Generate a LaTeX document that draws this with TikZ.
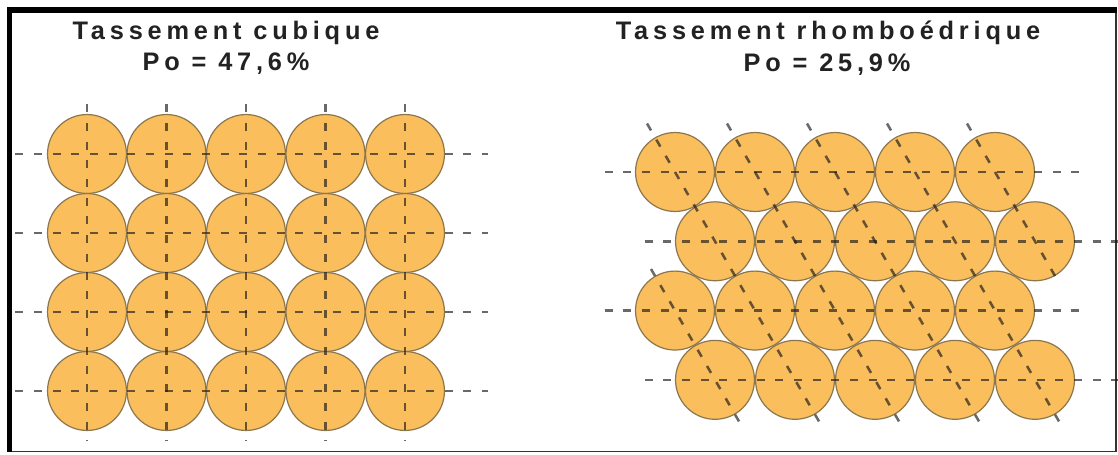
\documentclass[tikz,border=0pt]{standalone}
\usepackage{fontspec}
\setmainfont{Liberation Sans}
\newfontfamily\headfont[LetterSpace=19]{Liberation Sans}
\usetikzlibrary{calc}
\definecolor{ink}{RGB}{34,34,34}
\definecolor{grain}{RGB}{250,190,92}
\definecolor{grainrim}{RGB}{140,118,78}

\begin{document}
\begin{tikzpicture}[
  x=0.75pt,y=-0.75pt,
  grain/.style={circle, draw=grainrim, fill=grain, line width=0.9pt,
                minimum size=59.2pt, inner sep=0pt},
  axis/.style={draw=black!90, opacity=0.65, line width=1.9pt,
               dash pattern=on 6pt off 8pt},
  heading/.style={font=\headfont\bfseries\fontsize{19}{22}\selectfont,
                  text=ink, anchor=base, inner sep=0pt}
]
\useasboundingbox (0,0) rectangle (1118,454);
\fill[white] (0,0) rectangle (1118,454);

% Frame: heavy top and left edges, hairline right and bottom.
\fill[black] (7,7) rectangle (1117,13);
\fill[black] (7,7) rectangle (12,452);
\draw[black!80, line width=0.9pt] (1116,13) -- (1116,451.5) -- (12,451.5);

% Headings.
\node[heading] (titleL) at (226,39) {Tassement cubique};
\node[heading] (poL) at (226,70.5) {Po = 47,6\%};
\node[heading] (titleR) at (828,39) {Tassement rhomboédrique};
\node[heading] (poR) at (827,71) {Po = 25,9\%};

% Cubic packing: grains stacked straight on top of each other.
\foreach \r in {1,...,4}
  \foreach \c in {1,...,5}
    \node[grain] (cub-\r-\c) at ({87+79.5*(\c-1)},{154+79*(\r-1)}) {};

\foreach \c in {1,...,5}
  \draw[axis] ($(cub-1-\c)!-0.63!(cub-2-\c)$) -- ($(cub-4-\c)!-0.63!(cub-3-\c)$);
\foreach \r in {1,...,4}
  \draw[axis] ($(cub-\r-1)!-0.9!(cub-\r-2)$) -- ($(cub-\r-5)!-1.05!(cub-\r-4)$);

% Rhombohedral packing: every other row shifted by one radius.
\foreach \r/\dx in {1/0,2/40,3/0,4/40}
  \foreach \c in {1,...,5}
    \node[grain] (rho-\r-\c) at ({675+\dx+80*(\c-1)},{172+69.28*(\r-1)}) {};

\foreach \r in {1,...,4}
  \draw[axis] ($(rho-\r-1)!-0.88!(rho-\r-2)$) -- ($(rho-\r-5)!-1.06!(rho-\r-4)$);
\foreach \i/\j in {1/2,2/3,3/4,4/5}
  \draw[axis] ($(rho-1-\i)!-0.7!(rho-2-\i)$) -- ($(rho-4-\j)!-0.7!(rho-3-\j)$);
\draw[axis] ($(rho-1-5)!-0.7!(rho-2-5)$) -- ($(rho-2-5)!-0.6!(rho-1-5)$);
\draw[axis] ($(rho-3-1)!-0.6!(rho-4-1)$) -- ($(rho-4-1)!-0.7!(rho-3-1)$);

\end{tikzpicture}
\end{document}
